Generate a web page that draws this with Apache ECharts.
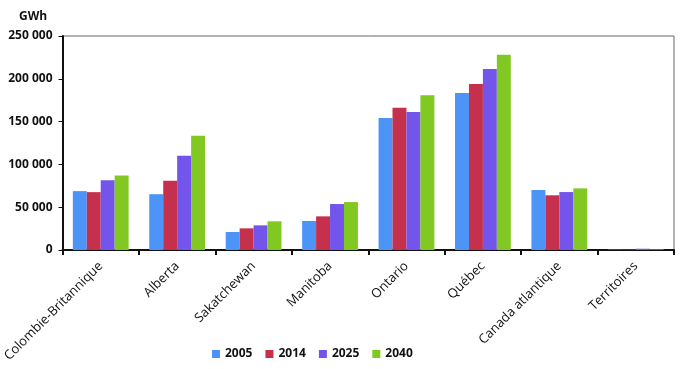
<!DOCTYPE html>
<html>
<head>
<meta charset="utf-8">
<script src="https://cdn.jsdelivr.net/npm/echarts@6/dist/echarts.min.js"></script>
<style>
  html, body { margin: 0; padding: 0; background: #fff; }
  #main { width: 698px; height: 369px; }
</style>
</head>
<body>
<div id="main"></div>
<script>
// provinces / régions
var regions = ['Colombie-Britannique', 'Alberta', 'Sakatchewan', 'Manitoba', 'Ontario', 'Québec', 'Canada atlantique', 'Territoires'];
var years = ['2005', '2014', '2025', '2040'];

// GWh
var v2005 = [68800, 65200, 21000, 33900, 154200, 183400, 70100, 500];
var v2014 = [67600, 80900, 25300, 39300, 166200, 193900, 63900, 600];
var v2025 = [81600, 110200, 28800, 53700, 161200, 211400, 67700, 1500];
var v2040 = [87100, 133600, 33500, 56000, 180700, 228200, 72000, 700];

var colors = ['#4d94f8', '#c5304c', '#7455eb', '#81c922'];

var myChart = echarts.init(document.getElementById('main'));

var values = [v2005, v2014, v2025, v2040];
var series = [];
for (var i = 0; i < years.length; i++) {
    series.push({
        name: years[i],
        type: 'bar',
        data: values[i],
        barGap: '0%',
        barCategoryGap: '27%',
        itemStyle: { color: colors[i] }
    });
}

var option = {
    animation: false,
    textStyle: { fontFamily: 'Open Sans' },
    title: {
        text: 'GWh',
        left: 14,
        top: 6,
        textStyle: { fontSize: 12, fontWeight: 'bold', color: '#111', fontFamily: 'Open Sans' }
    },
    legend: {
        data: years,
        left: 207,
        bottom: 4,
        itemWidth: 8,
        itemHeight: 8,
        itemGap: 13,
        icon: 'rect',
        textStyle: { fontSize: 12, fontWeight: 'bold', color: '#111', padding: [0, 0, 0, 0] }
    },
    grid: {
        left: 60,
        right: 24,
        top: 36,
        bottom: 119,
        show: true,
        borderColor: '#666',
        borderWidth: 1
    },
    xAxis: {
        type: 'category',
        data: regions,
        axisLine: { lineStyle: { color: '#111', width: 2 } },
        axisTick: { show: true, length: 5, lineStyle: { color: '#111', width: 2 } },
        axisLabel: {
            rotate: 45,
            interval: 0,
            margin: 14,
            fontSize: 13,
            color: '#111'
        }
    },
    yAxis: {
        type: 'value',
        min: 0,
        max: 250000,
        interval: 50000,
        axisLine: { show: true, lineStyle: { color: '#111', width: 2 } },
        axisTick: { show: true, length: 4, lineStyle: { color: '#111', width: 1 } },
        splitLine: { show: false },
        axisLabel: {
            fontSize: 12,
            fontWeight: 'bold',
            color: '#111',
            margin: 10,
            formatter: function (v) {
                return String(v).replace(/\B(?=(\d{3})+(?!\d))/g, ' ');
            }
        }
    },
    series: series
};

myChart.setOption(option);
</script>
</body>
</html>
